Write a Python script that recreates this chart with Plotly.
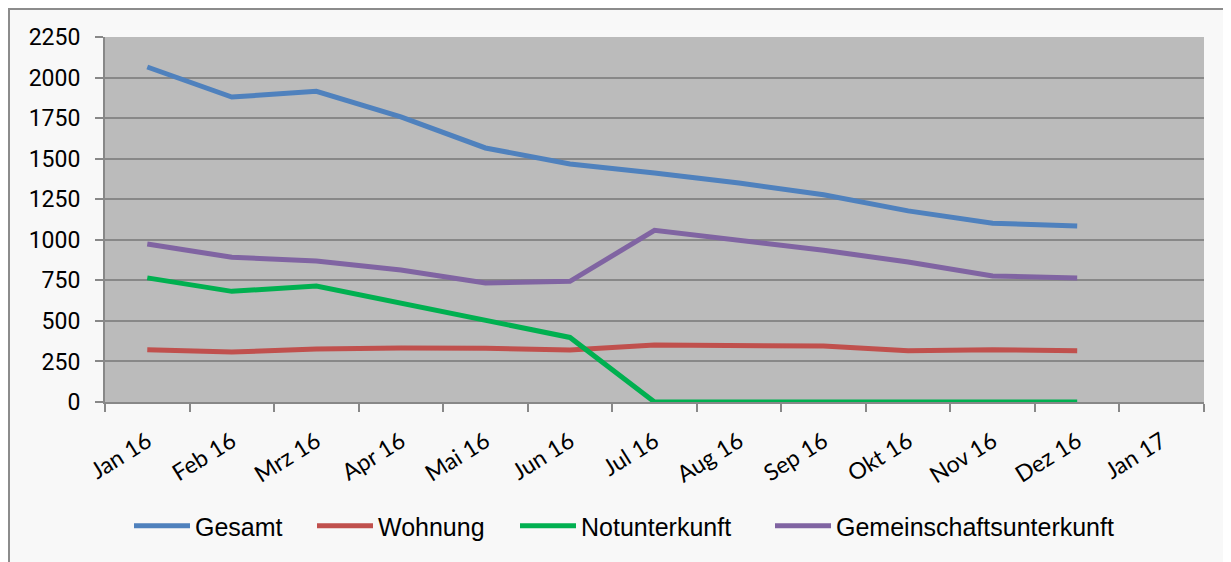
import plotly.graph_objects as go

# ---- data ----
categories = ["Jan 16", "Feb 16", "Mrz 16", "Apr 16", "Mai 16", "Jun 16", "Jul 16",
              "Aug 16", "Sep 16", "Okt 16", "Nov 16", "Dez 16", "Jan 17"]
months = categories[:12]
gesamt = [2065, 1880, 1915, 1757, 1566, 1467, 1412, 1350, 1278, 1178, 1102, 1085]
wohnung = [322, 308, 327, 333, 331, 320, 351, 351, 345, 316, 322, 316]
notunterkunft = [765, 682, 715, 608, 500, 398, 0, 0, 0, 0, 0, 0]
gemeinschaft = [974, 892, 869, 814, 734, 744, 1058, 997, 935, 863, 777, 765]

series = [
    ("Gesamt", gesamt, "#4F81BD"),
    ("Wohnung", wohnung, "#C0504D"),
    ("Notunterkunft", notunterkunft, "#00B050"),
    ("Gemeinschaftsunterkunft", gemeinschaft, "#8064A2"),
]

OFF = 8  # page body margin
W, H = 1231 - OFF, 562 - OFF
# plot area (screen pixels)
L, R, T, B = 105, 1204, 37, 402
Lf, Rf, Tf, Bf = L - OFF, R - OFF, T - OFF, B - OFF


def px(x):  # screen x -> paper
    return (x - OFF - Lf) / (Rf - Lf)


def py(y):  # screen y -> paper
    return (Bf - (y - OFF)) / (Bf - Tf)


legend_x = [129, 312, 515, 770]

fig = go.Figure()
for i, (name, vals, col) in enumerate(series):
    fig.add_trace(go.Scatter(
        x=months, y=vals, name=name, mode="lines",
        line=dict(color=col, width=5),
        legend="legend" if i == 0 else f"legend{i+1}",
    ))

legend_common = dict(
    orientation="h", xanchor="left", yanchor="middle", y=py(526),
    font=dict(family="Liberation Sans", size=25, color="#000000"),
    bgcolor="rgba(0,0,0,0)", itemwidth=56,
)
layout_legends = {}
for i, lx in enumerate(legend_x):
    key = "legend" if i == 0 else f"legend{i+1}"
    layout_legends[key] = dict(legend_common, x=px(lx))

fig.update_layout(
    width=W, height=H,
    margin=dict(l=Lf, r=W - Rf, t=Tf, b=H - Bf),
    paper_bgcolor="#F8F8F8",
    plot_bgcolor="#BBBBBB",
    showlegend=True,
    **layout_legends,
    xaxis=dict(
        type="category", categoryorder="array", categoryarray=categories,
        range=[-0.5, len(categories) - 0.5],
        tickson="boundaries", ticks="outside", ticklen=8, tickwidth=2, tickcolor="#888888",
        showgrid=False, showline=True, linecolor="#888888", linewidth=2,
        tickangle=-32, ticklabelstandoff=15,
        tickfont=dict(family="Lato", size=23, color="#000000"),
    ),
    yaxis=dict(
        range=[0, 2250], dtick=250, tick0=0,
        ticks="outside", ticklen=8, tickwidth=2, tickcolor="#888888",
        showgrid=True, gridcolor="#888888", gridwidth=2,
        showline=True, linecolor="#888888", linewidth=2,
        zeroline=False,
        tickfont=dict(family="Roboto", size=23, color="#000000"),
        ticklabelstandoff=10,
    ),
    shapes=[
        dict(type="line", xref="paper", yref="paper", x0=px(9), x1=px(9), y0=py(7), y1=py(600),
             line=dict(color="#8C8C8C", width=2)),
        dict(type="line", xref="paper", yref="paper", x0=px(9), x1=px(1300), y0=py(9), y1=py(9),
             line=dict(color="#8C8C8C", width=2)),
    ],
)

fig.write_html("out.html")
